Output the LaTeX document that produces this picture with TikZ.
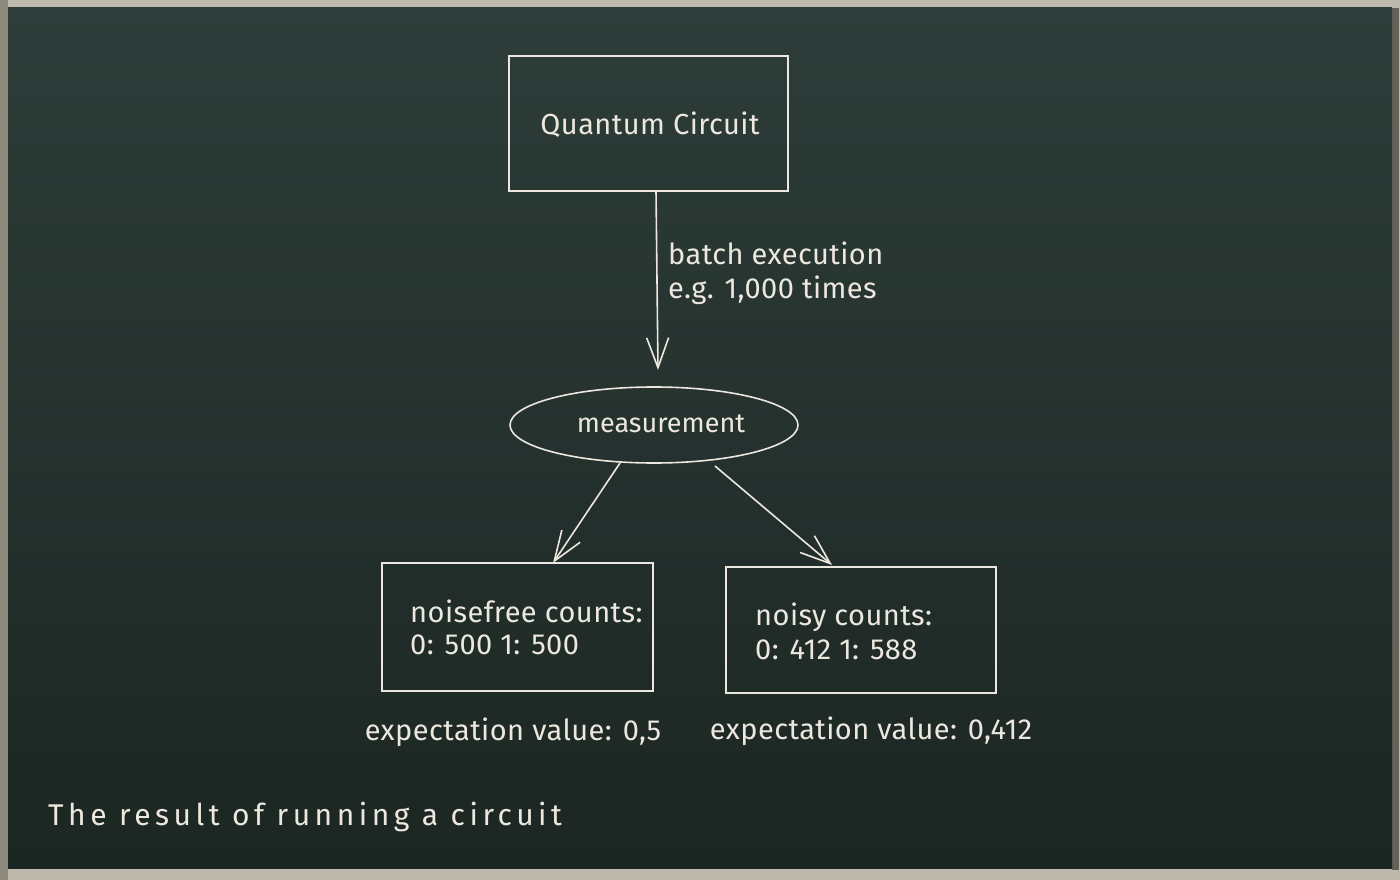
\documentclass[tikz,border=0pt]{standalone}
\usepackage{fontspec}
\setmainfont{Fira Sans}
\usetikzlibrary{arrows.meta,shapes.geometric}
\definecolor{chalk}{HTML}{ECE8DF}
\definecolor{boardtop}{HTML}{2E3D39}
\definecolor{boardbot}{HTML}{1C2623}
\definecolor{frameA}{HTML}{BDB9AD}
\definecolor{frameB}{HTML}{8E8A7E}
\tikzset{
  chalkline/.style={draw=chalk, line width=1.6pt},
  boxnode/.style={chalkline, rectangle, inner sep=0pt},
  chalktext/.style={text=chalk, font=\fontsize{29}{34}\selectfont\addfontfeatures{LetterSpace=1.5}, inner sep=0pt},
  chalkarrow/.style={chalkline, -{Straight Barb[length=30pt,width=22pt,line width=1.6pt]}},
}
\begin{document}
\begin{tikzpicture}[x=1pt,y=-1pt]
\useasboundingbox (0,0) rectangle (1400,880);
% frame
\fill[frameA] (0,0) rectangle (1400,880);
\fill[frameB] (0,0) rectangle (8,880);
\fill[frameB!70!black] (1392,8) rectangle (1399,870);
\shade[top color=boardtop, bottom color=boardbot] (8,8) rectangle (1392,868);
% nodes
\node[boxnode, minimum width=279pt, minimum height=135pt] (qc) at (648.5,123.5) {};
\node[chalktext] (qct) at (650,125) {Quantum Circuit};
\node[chalkline, ellipse, minimum width=288pt, minimum height=76pt, inner sep=0pt] (meas) at (654,425) {};
\node[chalktext, font=\fontsize{27}{32}\selectfont] (meast) at (661,424) {measurement};
\node[boxnode, minimum width=271pt, minimum height=128pt] (nf) at (517.5,627) {};
\node[boxnode, minimum width=270pt, minimum height=126pt] (ny) at (861,630) {};
\node[chalktext, anchor=west, align=left] (nft) at (410,627) {noisefree counts:\\[-2pt]0: 500 1: 500};
\node[chalktext, anchor=west, align=left] (nyt) at (755,631) {noisy counts:\\0: 412 1: 588};
\node[chalktext] (ev1) at (513,732) {expectation value: 0,5};
\node[chalktext] (ev2) at (871,731) {expectation value: 0,412};
\node[chalktext, anchor=west, align=left] (batch) at (668,273) {batch execution\\e.g. 1,000 times};
\node[chalktext, anchor=west, font=\fontsize{30}{34}\selectfont\addfontfeatures{LetterSpace=15}] (title) at (48,817) {The result of running a circuit};
% connectors
\coordinate (a1) at (656,191);
\coordinate (a2) at (658,370);
\draw[chalkarrow] (a1) -- (a2);
\coordinate (b1) at (620,463);
\coordinate (b2) at (553,563);
\draw[chalkarrow] (b1) -- (b2);
\coordinate (c1) at (715,466);
\coordinate (c2) at (832,565);
\draw[chalkarrow] (c1) -- (c2);
\end{tikzpicture}
\end{document}
